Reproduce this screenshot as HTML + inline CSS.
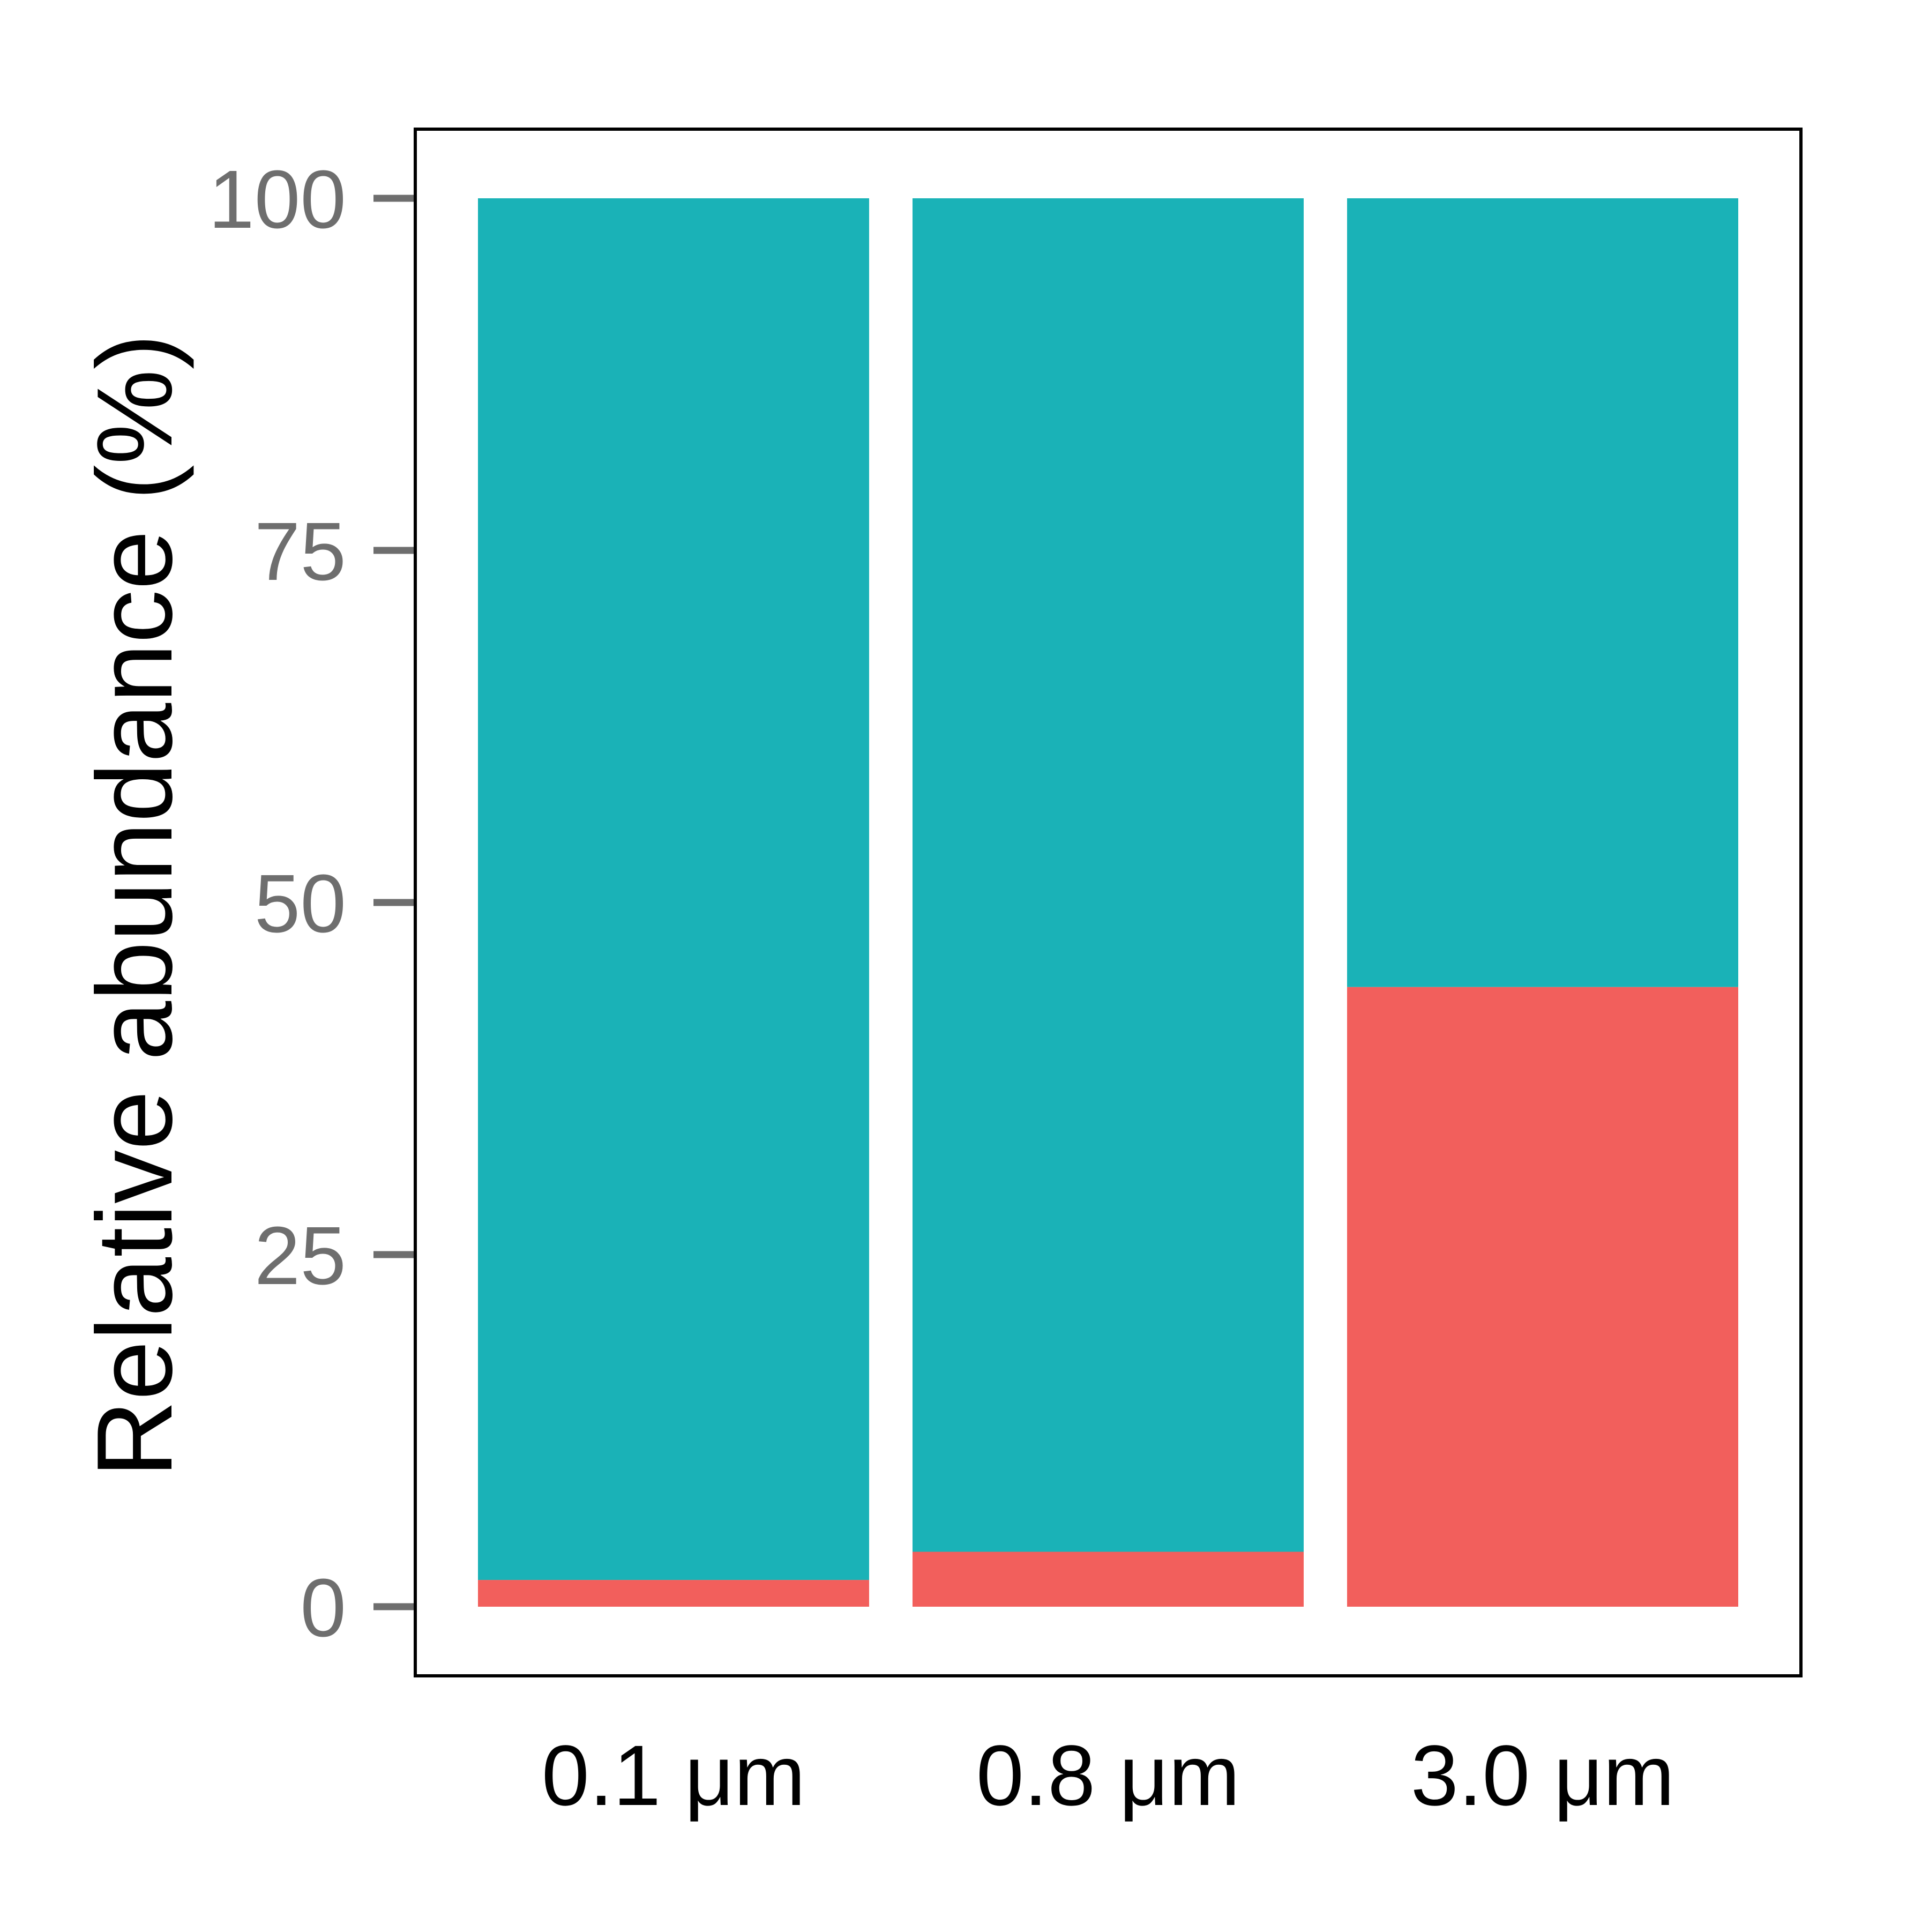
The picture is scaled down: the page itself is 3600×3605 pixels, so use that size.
<!DOCTYPE html>
<html><head><meta charset="utf-8"><style>
html,body{margin:0;padding:0;background:#fff;}
svg text{font-family:"Liberation Sans",Arial,sans-serif;}
</style></head><body>
<svg id="chart" width="3600" height="3600" viewBox="0 0 3600 3600" xmlns="http://www.w3.org/2000/svg">
<rect width="3600" height="3600" fill="#fff"/>
<g id="bars"></g>
<g id="yaxis"></g>
<g id="xaxis"></g>
<rect x="775" y="241" width="2586" height="2886" fill="none" stroke="#000" stroke-width="6"/>
<text x="0" y="0" transform="translate(320,1690) rotate(-90)" text-anchor="middle" font-size="200" fill="#000">Relative abundance (%)</text>
</svg>
<script>
const categories = ["0.1 μm", "0.8 μm", "3.0 μm"];
const redValues = [1.9, 3.9, 44];
const tealValues = [98.1, 96.1, 56];
const yTicks = [0, 25, 50, 75, 100];
const yTickLabels = ["0", "25", "50", "75", "100"];

const NS = "http://www.w3.org/2000/svg";
const y = v => 2998 - v * (2998 - 370) / 100;
const bandStart = 892, bandStep = 811, barW = 730;
const x = i => bandStart + i * bandStep;
const bars = document.getElementById('bars');
function mk(tag, attrs, parent){const e=document.createElementNS(NS,tag);for(const k in attrs)e.setAttribute(k,attrs[k]);parent.appendChild(e);return e;}
categories.forEach((c,i)=>{
  const r = mk('rect',{x:x(i),y:y(redValues[i]),width:barW,height:y(0)-y(redValues[i]),fill:'#F25F5C'},bars);
  
  
  const top = redValues[i] + tealValues[i];
  const t = mk('rect',{x:x(i),y:y(top),width:barW,height:y(redValues[i])-y(top),fill:'#1AB2B7'},bars);
  
  
  const lbl = mk('text',{x:x(i)+barW/2,y:3368,'text-anchor':'middle','font-size':160,fill:'#000'},document.getElementById('xaxis'));
  lbl.textContent = c;
  
  
});
const ya = document.getElementById('yaxis');
yTicks.forEach((v,i)=>{
  const l = mk('line',{x1:697,x2:775,y1:y(v),y2:y(v),stroke:'#6e6e6e','stroke-width':13},ya);
  
  
  const t = mk('text',{x:646,y:y(v)+55,'text-anchor':'end','font-size':154,fill:'#6e6e6e'},ya);
  t.textContent = yTickLabels[i];
  
  
});
</script>
</body></html>
